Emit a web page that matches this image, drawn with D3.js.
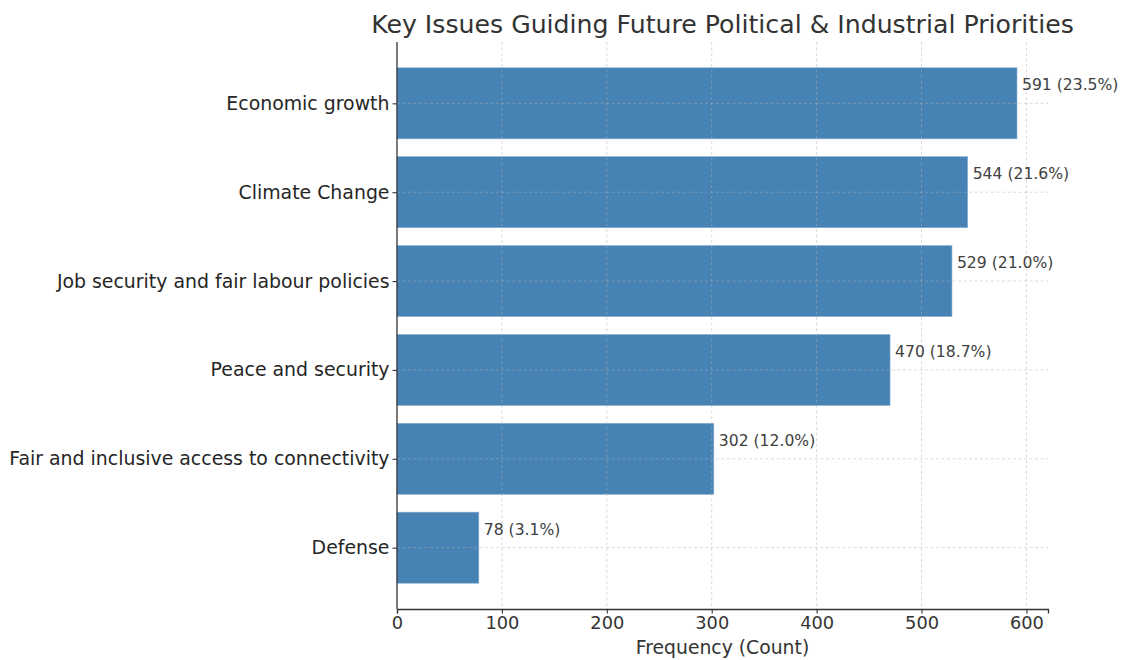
<!DOCTYPE html>
<html><head><meta charset="utf-8">
<script src="https://cdn.jsdelivr.net/npm/d3@7"></script>
<style>body{margin:0;background:#fff}svg{display:block}text{font-family:"DejaVu Sans",sans-serif}</style>
</head><body><svg id="c" width="1122" height="660"></svg>
<script>
const categories = ["Economic growth","Climate Change","Job security and fair labour policies","Peace and security","Fair and inclusive access to connectivity","Defense"];
const counts = [591,544,529,470,302,78];
const percents = ["23.5%","21.6%","21.0%","18.7%","12.0%","3.1%"];
const xTicks = [0,100,200,300,400,500,600];
const title = "Key Issues Guiding Future Political & Industrial Priorities";
const xLabel = "Frequency (Count)";

const svg = d3.select("#c");
const L = 397, R = 1048, T = 42, B = 609;
const x = d3.scaleLinear().domain([0, d3.max(counts)*1.05]).range([L, R]);
const n = categories.length;
const y = d3.scaleLinear().domain([-0.69, n - 1 + 0.69]).range([T, B]);
const barH = (y(0.4) - y(-0.4));

// bars
svg.append("g").selectAll("rect").data(counts).join("rect")
  .attr("x", x(0)).attr("y", (d,i)=>y(i)-barH/2)
  .attr("width", d=>x(d)-x(0)).attr("height", barH)
  .attr("fill", "#4682b4").attr("stroke","#8fb3d4").attr("stroke-width",0.6);

// grid
const grid = svg.append("g").attr("stroke","#b0b0b0").attr("stroke-opacity",0.6).attr("stroke-width",0.8).attr("stroke-dasharray","3,2.5");
grid.selectAll("line.v").data(xTicks.slice(1)).join("line").attr("class","v")
  .attr("x1",d=>x(d)).attr("x2",d=>x(d)).attr("y1",T).attr("y2",B);
grid.selectAll("line.h").data(d3.range(n)).join("line").attr("class","h")
  .attr("x1",L).attr("x2",R).attr("y1",d=>y(d)).attr("y2",d=>y(d));

// axes
const xAxis = d3.axisBottom(x).tickValues(xTicks).tickSize(4.5).tickPadding(3);
const gx = svg.append("g").attr("transform",`translate(0,${B})`).call(xAxis);
gx.select(".domain").attr("stroke","#333").attr("stroke-width",1.3);
gx.selectAll(".tick line").attr("stroke","#333").attr("stroke-width",1.1);
gx.selectAll(".tick text").attr("font-size",17.8).attr("fill","#333").attr("font-family","DejaVu Sans");

const yAxis = d3.axisLeft(d3.scaleLinear().domain(y.domain()).range(y.range()))
  .tickValues(d3.range(n)).tickFormat(i=>categories[i]).tickSize(4.5).tickPadding(3);
const gy = svg.append("g").attr("transform",`translate(${L},0)`).call(yAxis);
gy.select(".domain").attr("stroke","#333").attr("stroke-width",1.3).attr("d",`M0,${T}V${B}`);
gy.selectAll(".tick line").attr("stroke","#333").attr("stroke-width",1.1);
gy.selectAll(".tick text").attr("font-size",18.9).attr("fill","#262626").attr("font-family","DejaVu Sans");

// value labels
svg.append("g").selectAll("text").data(counts).join("text")
  .attr("x", d=>x(d)+5).attr("y",(d,i)=>y(i)-13)
  .attr("font-size",15.6).attr("fill","#404040")
  .text((d,i)=>`${d} (${percents[i]})`);

// title
svg.append("text").attr("x",(L+R)/2).attr("y",33).attr("text-anchor","middle")
  .attr("font-size",25.2).attr("fill","#333").text(title);
svg.append("text").attr("x",(L+R)/2).attr("y",654).attr("text-anchor","middle")
  .attr("font-size",18.8).attr("fill","#333").text(xLabel);
</script></body></html>
